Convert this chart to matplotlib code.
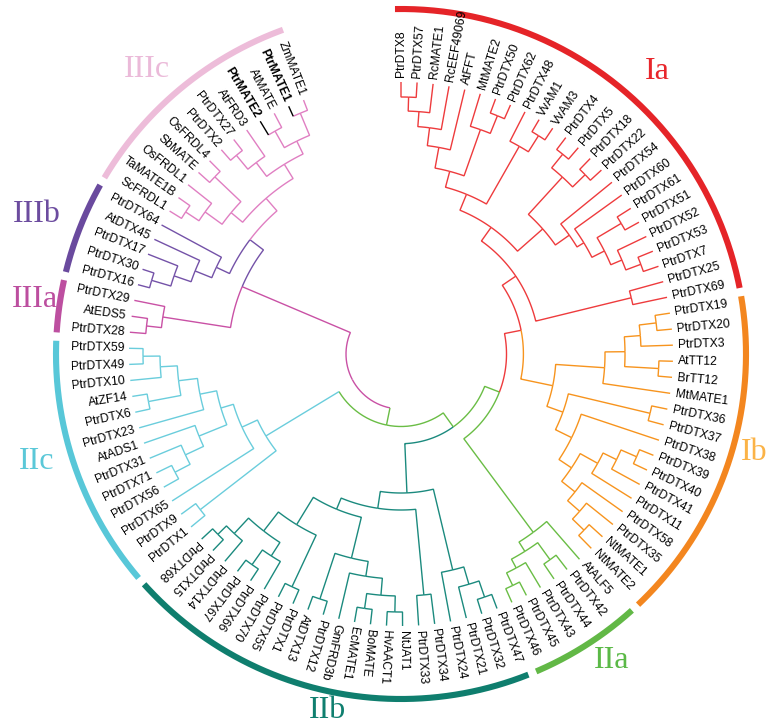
import numpy as np
import matplotlib
matplotlib.use("Agg")
import matplotlib.pyplot as plt

# ------------------------------------------------------------------
# DATA: clade trees (Newick-like; number after ')' = node depth on the
# radial axis, leaves sit at the common tip depth)
# ------------------------------------------------------------------
IA_TREE = ("((((((((PtrDTX8,PtrDTX57)257,RcMATE1)243,RcEEF49069)228,AtFFT)210,"
           "(MtMATE2,(PtrDTX50,PtrDTX62)257)238)189,(PtrDTX48,(VvAM1,VvAM3)258)239)172.6,"
           "(((PtrDTX4,PtrDTX5)257,(PtrDTX18,PtrDTX22)257)239.5,(PtrDTX54,(PtrDTX60,"
           "((PtrDTX61,PtrDTX51)256,(PtrDTX52,(PtrDTX53,PtrDTX7)256)240)228)214)206)189)155.4,"
           "(PtrDTX25,PtrDTX69)237)138.7")
IB_TREE = ("(((((PtrDTX19,PtrDTX20)257,PtrDTX3)240,(AtTT12,BrTT12)258)224,MtMATE1)204,"
           "((PtrDTX36,PtrDTX37)256,(PtrDTX38,((((PtrDTX39,PtrDTX40)257,PtrDTX41)240,PtrDTX11)225,"
           "(PtrDTX58,(PtrDTX35,(NtMATE1,NtMATE2)254)238)222)205)190)172)155")
IIA_TREE = "(AtALF5,((PtrDTX42,PtrDTX44)254,(PtrDTX43,(PtrDTX45,PtrDTX46)257)243)233)222"
IIB_TREE = ("((((PtrDTX47,PtrDTX32)257,PtrDTX21)240,PtrDTX24)222,((PtrDTX34,PtrDTX33)242,"
            "(((((NtJAT1,HvAACT1)258,(BoMATE,EcMATE1)257)242,GmFRD3b)225,(PtrDTX12,AtDTX13)258)210,"
            "((PtrDTX1,PtrDTX55)257,((PtrDTX70,(PtrDTX66,PtrDTX67)258)240,"
            "(PtrDTX14,(PtrDTX15,PtrDTX68)257)245)224)200)168)156)139")
IIC_TREE = ("((PtrDTX1,PtrDTX9)254,(PtrDTX65,((((PtrDTX56,PtrDTX71)255,PtrDTX31)238,AtADS1)218,"
            "(PtrDTX23,((PtrDTX6,AtZF14)257,(PtrDTX10,(PtrDTX49,PtrDTX59)258)241)224)205)188)175)158")
IIIA_TREE = "((PtrDTX28,AtEDS5)256,PtrDTX29)241"
IIIB_TREE = "((((PtrDTX16,PtrDTX30)260,PtrDTX17)240,AtDTX45)222,PtrDTX64)204"
IIIC_TREE = ("((((ScFRDL1,TaMATE1B)258,OsFRDL1)242,(SbMATE,OsFRDL4)257)221,"
             "(((PtrDTX2,PtrDTX27)258,AtFRD3)240,((PtrMATE2,AtMATE)256,(PtrMATE1,ZmMATE1)261)237)222.7)206")
BACKBONE = "(((((Ia,Ib)122.4,IIa)105.5,IIb)89.7,IIc)72.5,(IIIa,(IIIb,IIIc)189.4)172.5)55"

CLADES = ["Ia", "Ib", "IIa", "IIb", "IIc", "IIIa", "IIIb", "IIIc"]
CLADE_TREES = [IA_TREE, IB_TREE, IIA_TREE, IIB_TREE, IIC_TREE, IIIA_TREE, IIIB_TREE, IIIC_TREE]
BOLD_LEAVES = ["PtrMATE1", "PtrMATE2"]

# ------------------------------------------------------------------
# STYLE / LAYOUT
# ------------------------------------------------------------------
BRANCH_COL = {"Ia": "#EE3B3D", "Ib": "#F7941E", "IIa": "#6ABD45", "IIb": "#1B8A7E",
              "IIc": "#6ACDDC", "IIIa": "#C951A5", "IIIb": "#7452A8", "IIIc": "#E07FC2"}
RING_COL = {"Ia": "#E52428", "Ib": "#F3861F", "IIa": "#62B846", "IIb": "#0F7E6E",
            "IIc": "#58C7D8", "IIIa": "#BD4FA0", "IIIb": "#6A4A9E", "IIIc": "#EDBCD9"}
TEXT_COL = {"Ia": "#E8262B", "Ib": "#FBB347", "IIa": "#5BB947", "IIb": "#0F7F6F",
            "IIc": "#5BC8D8", "IIIa": "#BC4E9F", "IIIb": "#6C4C9F", "IIIc": "#EBBAD9"}
CLADE_LABEL_POS = {"Ia": (47.8, 381), "Ib": (-15.5, 367), "IIa": (-55.6, 372), "IIb": (-101.6, 364),
                   "IIc": (196.5, 380), "IIIa": (171.6, 370), "IIIb": (159.1, 390), "IIIc": (131.8, 381)}
CX, CY = 401.0, 354.0
LEAF_R = 272.0
LABEL_R = 277.0
RING_R = 345.0
START_A, END_A = 90.0, -249.0
FLIP_LO, FLIP_HI = 90.0, 221.0


def parse(s, lookup=None):
    assert s.count("(") == s.count(")"), s[:30]
    pos = 0

    def node():
        nonlocal pos
        if s[pos] == "(":
            pos += 1
            kids = [node()]
            while s[pos] == ",":
                pos += 1
                kids.append(node())
            pos += 1  # ')'
            j = pos
            while pos < len(s) and (s[pos].isdigit() or s[pos] == "."):
                pos += 1
            return {"kids": kids, "r": float(s[j:pos])}
        j = pos
        while pos < len(s) and s[pos] not in ",()":
            pos += 1
        name = s[j:pos]
        if lookup is not None and name in lookup:
            return lookup[name]
        return {"kids": [], "r": LEAF_R, "name": name}

    return node()


def paint(n, col):
    n["color"] = col
    for k in n["kids"]:
        paint(k, col)


clade_roots = {}
for name, t in zip(CLADES, CLADE_TREES):
    root = parse(t)
    paint(root, BRANCH_COL[name])
    clade_roots[name] = root

tree = parse(BACKBONE, clade_roots)
A_node = tree["kids"][0]
B_node = A_node["kids"][0]
C_node = B_node["kids"][0]
I_node = C_node["kids"][0]
III_node = tree["kids"][1]
IIIbc_node = III_node["kids"][1]
I_node["color"] = BRANCH_COL["Ia"]
C_node["color"] = BRANCH_COL["IIa"]
B_node["color"] = BRANCH_COL["IIa"]
A_node["color"] = BRANCH_COL["IIa"]
A_node["arc"] = BRANCH_COL["IIIa"]
clade_roots["IIc"]["arc"] = BRANCH_COL["IIa"]
III_node["color"] = BRANCH_COL["IIIa"]
IIIbc_node["color"] = BRANCH_COL["IIIb"]
tree["color"] = BRANCH_COL["IIIa"]

leaves = []


def collect(n):
    if not n["kids"]:
        leaves.append(n)
    for k in n["kids"]:
        collect(k)


collect(tree)
angles = np.linspace(START_A, END_A, len(leaves))
for lf, a in zip(leaves, angles):
    lf["a"] = a


def set_angle(n):
    if n["kids"]:
        for k in n["kids"]:
            set_angle(k)
        n["a"] = 0.5 * (n["kids"][0]["a"] + n["kids"][-1]["a"])


set_angle(tree)


def xy(r, a):
    t = np.radians(a)
    return CX + r * np.cos(t), CY - r * np.sin(t)


fig = plt.figure(figsize=(7.71, 7.26), dpi=100)
ax = fig.add_axes([0, 0, 1, 1])
ax.set_xlim(0, 771)
ax.set_ylim(726, 0)
ax.set_aspect("equal")
ax.axis("off")

LW = 1.0


def draw(n):
    for c in n["kids"]:
        ecol = c["color"]
        if not c["kids"] and c.get("name") in BOLD_LEAVES:
            ecol = "black"
        acol = c.get("arc", c["color"])
        na = max(2, int(abs(c["a"] - n["a"]) * 3) + 2)
        arc_a = np.linspace(n["a"], c["a"], na)
        ax_, ay_ = xy(n["r"], arc_a)
        rx, ry = xy(np.array([n["r"], c["r"]]), c["a"])
        if acol == ecol:
            ax.plot(np.r_[ax_, rx[1]], np.r_[ay_, ry[1]], color=ecol, lw=LW,
                    solid_joinstyle="miter", solid_capstyle="butt")
        else:
            ax.plot(ax_, ay_, color=acol, lw=LW, solid_capstyle="butt")
            ax.plot(rx, ry, color=ecol, lw=LW, solid_capstyle="butt")
        draw(c)


draw(tree)

for lf in leaves:
    a = lf["a"]
    am = a % 360
    tx, ty = xy(LABEL_R, a)
    if FLIP_LO < am < FLIP_HI:
        rot, ha = am - 180, "right"
    else:
        rot, ha = am, "left"
    ax.text(tx, ty, lf["name"], rotation=rot, rotation_mode="anchor", ha=ha, va="center",
            fontsize=8.7, family=["Liberation Sans", "DejaVu Sans"],
            fontweight="bold" if lf["name"] in BOLD_LEAVES else "normal", color="black")

for name in CLADES:
    cl = []

    def grab(n):
        if not n["kids"]:
            cl.append(n["a"])
        for k in n["kids"]:
            grab(k)

    grab(clade_roots[name])
    a0, a1 = max(cl) + 1.0, min(cl) - 1.0
    aa = np.linspace(a0, a1, 200)
    px, py = xy(RING_R, aa)
    ax.plot(px, py, color=RING_COL[name], lw=4.4, solid_capstyle="butt")
    la, lr = CLADE_LABEL_POS[name]
    lx, ly = xy(lr, la)
    ax.text(lx, ly, name, ha="center", va="center", fontsize=23,
            family=["Liberation Serif", "DejaVu Serif"], color=TEXT_COL[name])

fig.savefig("out.png", dpi=100, facecolor="white")
